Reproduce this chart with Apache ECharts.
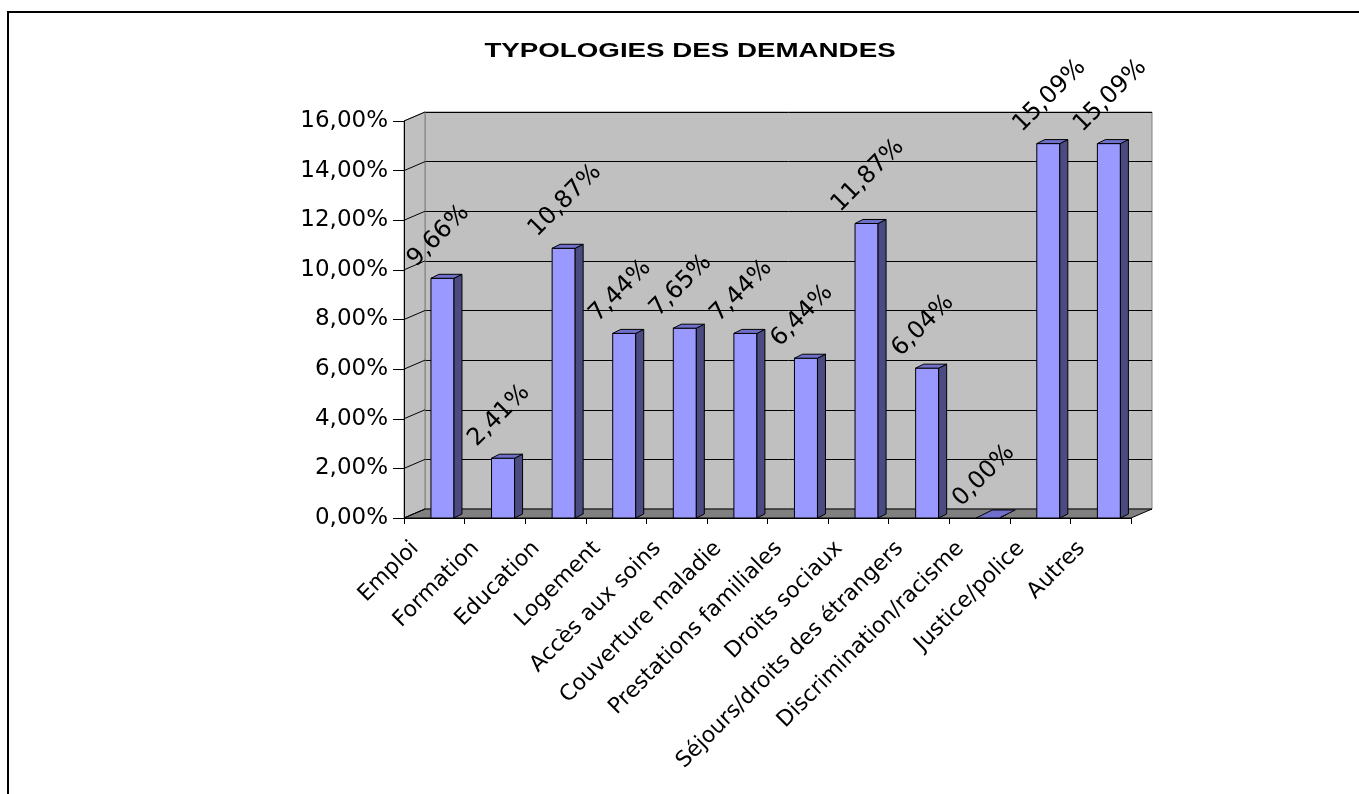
<!DOCTYPE html>
<html>
<head>
    <meta charset="utf-8">
    <title>Typologies des demandes</title>
    <script type="text/javascript" src="https://cdn.jsdelivr.net/npm/echarts@6.0.0/dist/echarts.min.js"></script>
</head>
<body style="margin:0;background:#fff;">
<div id="main" style="width:1359px;height:794px;"></div>
<script type="text/javascript">
    // données du graphique
    var categories = ['Emploi', 'Formation', 'Education', 'Logement', 'Accès aux soins',
        'Couverture maladie', 'Prestations familiales', 'Droits sociaux',
        'Séjours/droits des étrangers', 'Discrimination/racisme', 'Justice/police', 'Autres'];
    var values = [9.66, 2.41, 10.87, 7.44, 7.65, 7.44, 6.44, 11.87, 6.04, 0.00, 15.09, 15.09];
    var yTicks = [0, 2, 4, 6, 8, 10, 12, 14, 16];
    var titleText = 'TYPOLOGIES DES DEMANDES';

    // profondeur 3D (murs / barres)
    var DX = 21, DY = -9;
    var BDX = 8, BDY = -4;
    var FONT = '"DejaVu Sans", sans-serif';

    function pct(v) {
        return v.toFixed(2).replace('.', ',') + '%';
    }

    var chart = echarts.init(document.getElementById('main'));

    function renderWalls(params, api) {
        var cs = params.coordSys;
        var x0 = cs.x, x1 = cs.x + cs.width, yb = cs.y + cs.height;
        var children = [];
        // mur de gauche
        children.push({
            type: 'polygon',
            shape: { points: [[x0, yb], [x0, cs.y], [x0 + DX, cs.y + DY], [x0 + DX, yb + DY]] },
            style: { fill: '#c0c0c0', stroke: '#808080', lineWidth: 1 }
        });
        // sol
        children.push({
            type: 'polygon',
            shape: { points: [[x0, yb], [x1, yb], [x1 + DX, yb + DY], [x0 + DX, yb + DY]] },
            style: { fill: '#808080', stroke: '#000', lineWidth: 1 }
        });
        yTicks.forEach(function (t) {
            var y = api.coord([0, t])[1];
            children.push({
                type: 'line',
                shape: { x1: x0, y1: y, x2: x0 + DX, y2: y + DY },
                style: { stroke: '#000', lineWidth: 1 }
            });
        });
        return { type: 'group', children: children };
    }

    function renderBar(params, api) {
        var v = api.value(1);
        var top = api.coord([api.value(0), v]);
        var base = api.coord([api.value(0), 0]);
        var bw = api.size([1, 0])[0];
        var xl = top[0] - bw * 0.055, xr = xl + bw * 0.38;
        var yt = top[1], yb = base[1];
        // barre à zéro : seul le dessus est visible, un peu plus profond
        var dx = v === 0 ? 2 * BDX : BDX, dy = v === 0 ? 2 * BDY : BDY;
        return {
            type: 'group',
            children: [
                {
                    type: 'polygon',
                    shape: { points: [[xl, yb], [xr, yb], [xr, yt], [xl, yt]] },
                    style: { fill: '#9999ff', stroke: '#000', lineWidth: 1 }
                },
                {
                    type: 'polygon',
                    shape: { points: [[xr, yb], [xr + BDX, yb + BDY], [xr + BDX, yt + BDY], [xr, yt]] },
                    style: { fill: '#4b4b82', stroke: '#000', lineWidth: 1 }
                },
                {
                    type: 'polygon',
                    shape: { points: [[xl, yt], [xr, yt], [xr + dx, yt + dy], [xl + dx, yt + dy]] },
                    style: { fill: '#7070cc', stroke: '#000', lineWidth: 1 }
                },
                {
                    type: 'text',
                    x: xl - 11,
                    y: yt - 7,
                    rotation: Math.PI / 4,
                    style: {
                        text: pct(v),
                        font: '24px ' + FONT,
                        fill: '#000',
                        align: 'left',
                        verticalAlign: 'bottom'
                    }
                }
            ]
        };
    }

    var option = {
        backgroundColor: '#fff',
        animation: false,
        graphic: [
            {
                type: 'polyline',
                shape: { points: [[8, 794], [8, 12], [1359, 12]] },
                style: { stroke: '#000', lineWidth: 2, fill: null }
            },
            {
                type: 'text',
                x: 690,
                y: 51,
                scaleX: 1.32,
                style: {
                    text: titleText,
                    font: 'bold 21px "Liberation Sans", Arial, sans-serif',
                    fill: '#000',
                    align: 'center',
                    verticalAlign: 'middle'
                }
            }
        ],
        grid: [
            // mur du fond
            { left: 425, right: 207, top: 112, bottom: 285, show: true,
              backgroundColor: '#c0c0c0', borderColor: '#808080', borderWidth: 1 },
            // plan avant
            { left: 404, right: 228, top: 121, bottom: 276 }
        ],
        xAxis: [
            { gridIndex: 0, type: 'category', data: categories, show: false },
            {
                gridIndex: 1, type: 'category', data: categories, z: 10,
                axisLine: { lineStyle: { color: '#000', width: 1 } },
                axisTick: { show: true, length: 6, lineStyle: { color: '#000' } },
                axisLabel: {
                    rotate: 45, interval: 0, margin: 8, color: '#000',
                    fontSize: 22, fontFamily: FONT, padding: [0, 27, 0, 0]
                },
                splitLine: { show: false }
            }
        ],
        yAxis: [
            {
                gridIndex: 0, type: 'value', min: 0, max: 16, interval: 2,
                axisLine: { show: false }, axisTick: { show: false }, axisLabel: { show: false },
                splitLine: { show: true, lineStyle: { color: '#000', width: 1 } }
            },
            {
                gridIndex: 1, type: 'value', min: 0, max: 16, interval: 2, z: 10,
                axisLine: { show: true, lineStyle: { color: '#000', width: 1 } },
                axisTick: { show: true, length: 11, lineStyle: { color: '#000' } },
                axisLabel: {
                    margin: 16, color: '#000', fontSize: 23, fontFamily: FONT,
                    formatter: function (v) { return pct(v); }
                },
                splitLine: { show: false }
            }
        ],
        series: [
            {
                type: 'custom',
                xAxisIndex: 1, yAxisIndex: 1,
                z: 2,
                silent: true,
                renderItem: renderWalls,
                data: [[0, 0]]
            },
            {
                type: 'custom',
                xAxisIndex: 1, yAxisIndex: 1,
                z: 3,
                renderItem: renderBar,
                encode: { x: 0, y: 1 },
                data: values.map(function (v, i) { return [i, v]; })
            }
        ]
    };
    chart.setOption(option);
</script>
</body>
</html>
